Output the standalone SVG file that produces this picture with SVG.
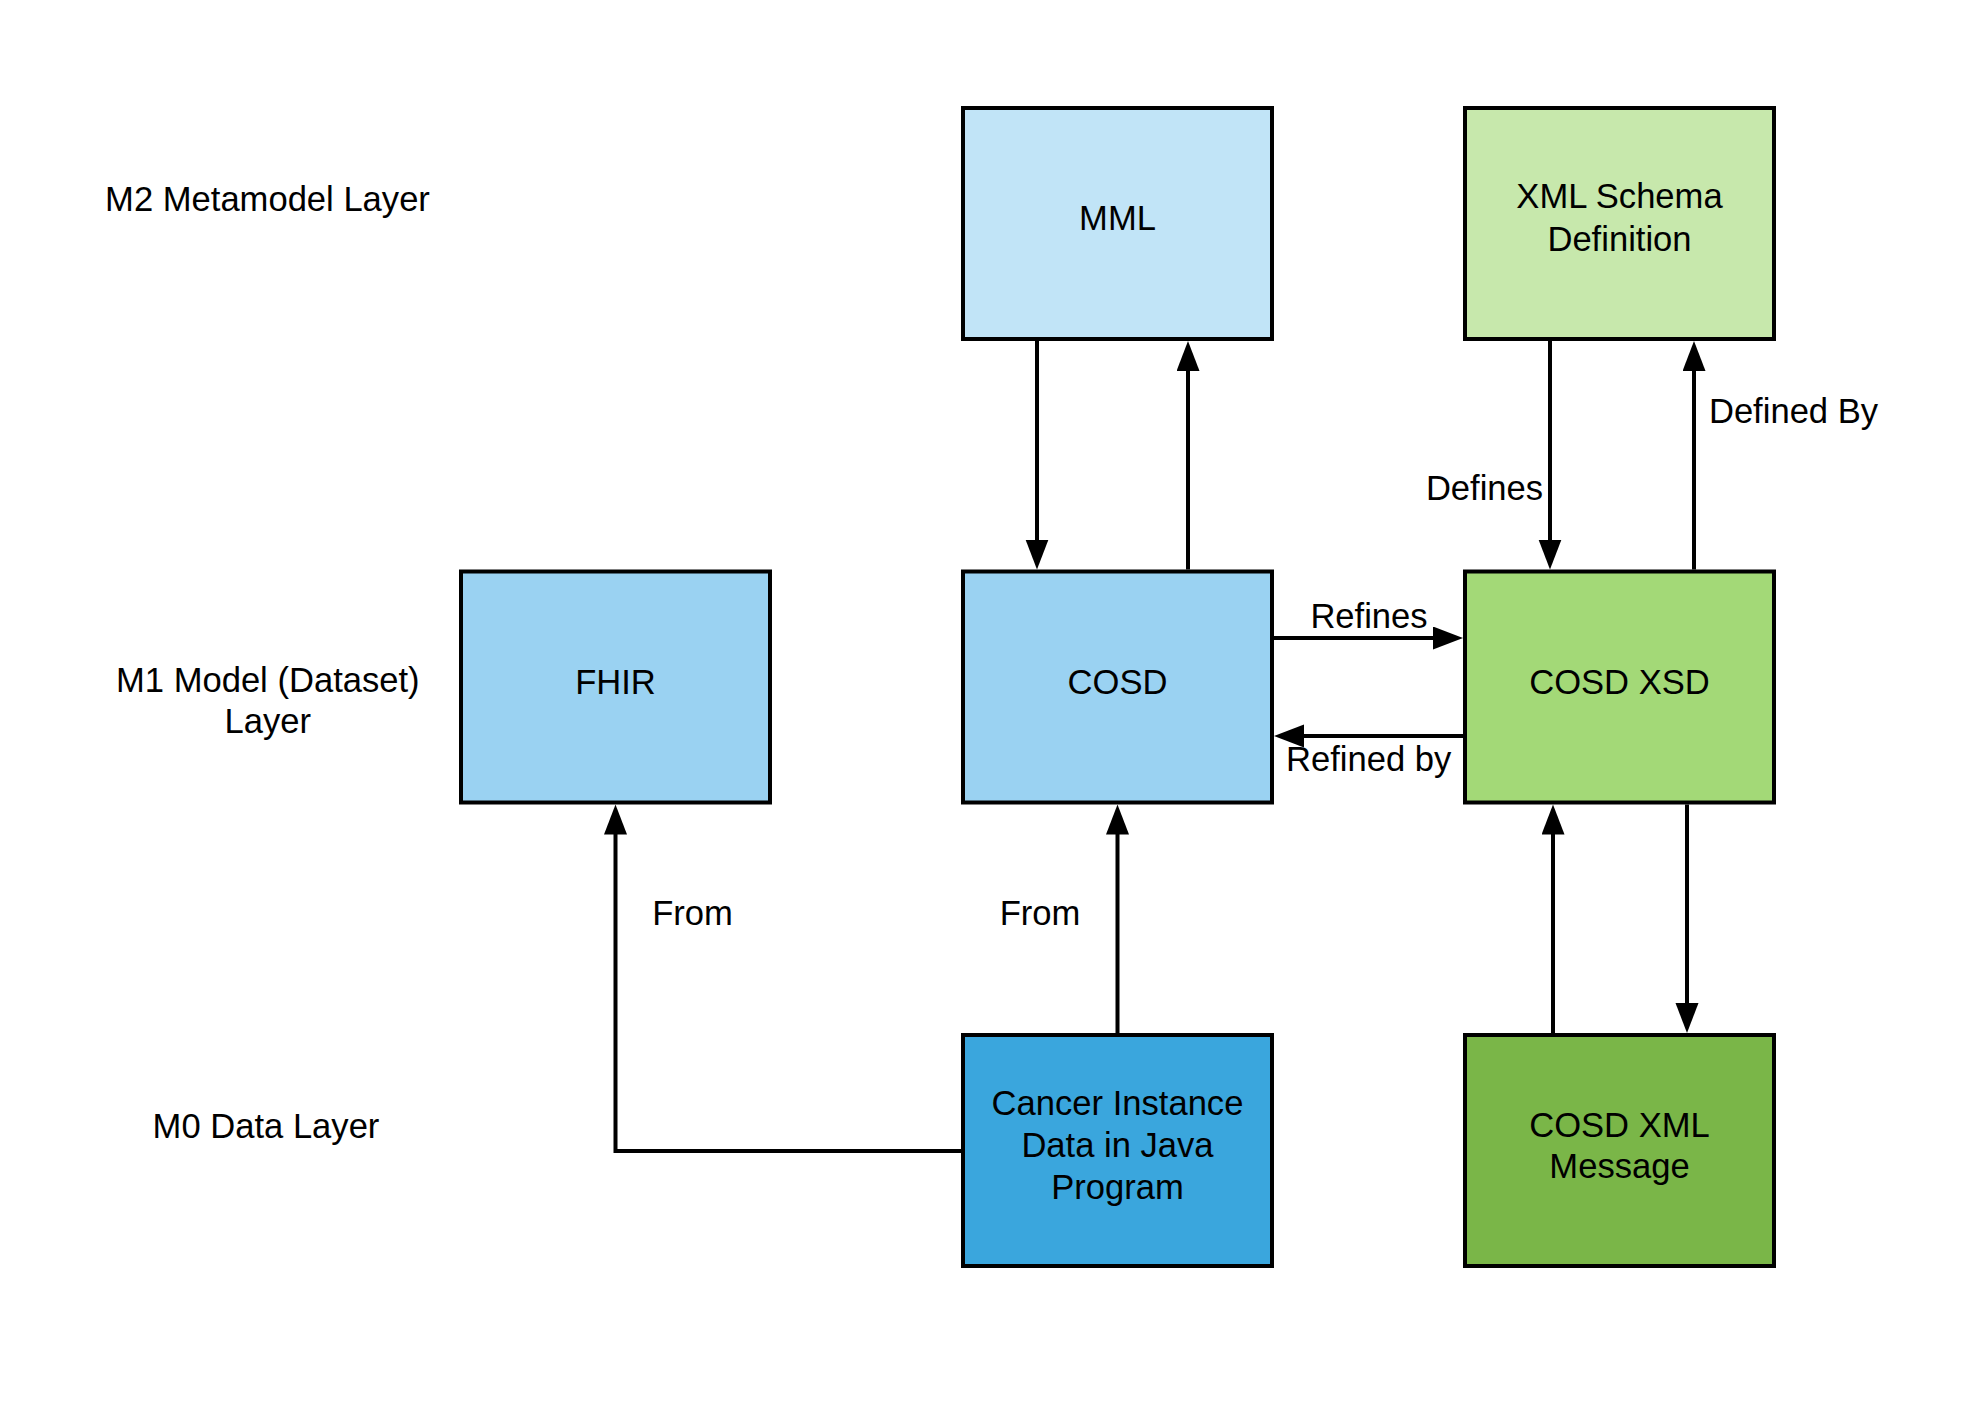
<svg xmlns="http://www.w3.org/2000/svg" width="1968" height="1420" viewBox="0 0 1968 1420">
  <style>
    text { font-family: "Liberation Sans", Arial, sans-serif; font-size: 34.6px; fill: #000000; text-anchor: middle; }
    .box { stroke: #000000; stroke-width: 4; }
    .conn { fill: none; stroke: #000000; stroke-width: 4; marker-end: url(#arrow); }
  </style>
  <defs>
    <marker id="arrow" markerUnits="userSpaceOnUse" markerWidth="32" markerHeight="24" refX="20" refY="11.5" orient="auto" viewBox="0 0 32 24">
      <path d="M0,0 L30,11.5 L0,23 Z" fill="#000000"/>
    </marker>
  </defs>
  <rect x="0" y="0" width="1968" height="1420" fill="#ffffff"/>

  <g id="layer-labels">
    <text x="267.5" y="211">M2 Metamodel Layer</text>
    <text x="267.8" y="692.3">M1 Model (Dataset)</text>
    <text x="267.8" y="733.3">Layer</text>
    <text x="266" y="1138.3">M0 Data Layer</text>
  </g>

  <g id="node-mml">
    <rect class="box" x="963" y="108" width="309" height="231" fill="#C1E4F7"/>
    <text x="1117.5" y="230">MML</text>
  </g>
  <g id="node-xsd-def">
    <rect class="box" x="1465" y="108" width="309" height="231" fill="#C7E8AC"/>
    <text x="1619.5" y="208.3">XML Schema</text>
    <text x="1619.5" y="250.7">Definition</text>
  </g>
  <g id="node-fhir">
    <rect class="box" x="461" y="571.5" width="309" height="231" fill="#9AD2F2"/>
    <text x="615.5" y="694">FHIR</text>
  </g>
  <g id="node-cosd">
    <rect class="box" x="963" y="571.5" width="309" height="231" fill="#9AD2F2"/>
    <text x="1117.5" y="694">COSD</text>
  </g>
  <g id="node-cosd-xsd">
    <rect class="box" x="1465" y="571.5" width="309" height="231" fill="#A3D977"/>
    <text x="1619.5" y="694">COSD XSD</text>
  </g>
  <g id="node-cancer">
    <rect class="box" x="963" y="1035" width="309" height="231" fill="#3AA6DD"/>
    <text x="1117.5" y="1115">Cancer Instance</text>
    <text x="1117.5" y="1157">Data in Java</text>
    <text x="1117.5" y="1199">Program</text>
  </g>
  <g id="node-cosd-xml">
    <rect class="box" x="1465" y="1035" width="309" height="231" fill="#7AB648"/>
    <text x="1619.5" y="1136.7">COSD XML</text>
    <text x="1619.5" y="1177.5">Message</text>
  </g>

  <g id="connectors">
    <path class="conn" d="M1037,341 V559.5"/>
    <path class="conn" d="M1188,569.5 V351"/>
    <path class="conn" d="M1550,341 V559.5"/>
    <path class="conn" d="M1694,569.5 V351"/>
    <path class="conn" d="M1274,638 H1453"/>
    <path class="conn" d="M1463,736 H1284"/>
    <path class="conn" d="M1117.5,1033 V814.5"/>
    <path class="conn" d="M961,1151 H615.5 V814.5"/>
    <path class="conn" d="M1553,1033 V814.5"/>
    <path class="conn" d="M1687,804.5 V1023"/>
    <text x="1484.5" y="500">Defines</text>
    <text x="1793.5" y="423.3">Defined By</text>
    <text x="1369" y="627.7">Refines</text>
    <text x="1368.7" y="770.7">Refined by</text>
    <text x="692.5" y="925">From</text>
    <text x="1040" y="925">From</text>
  </g>
</svg>
